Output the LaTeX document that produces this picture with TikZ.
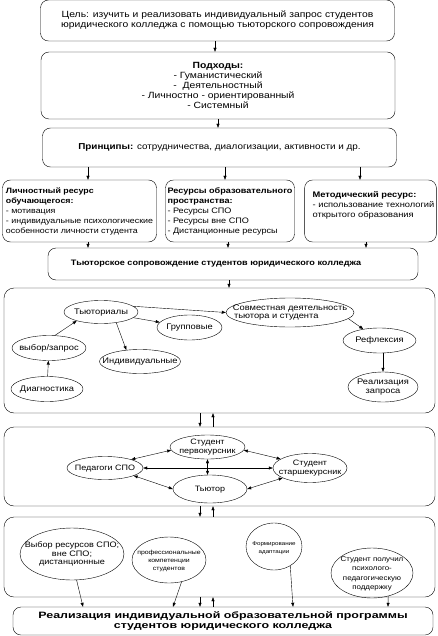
\documentclass[tikz,border=0pt]{standalone}
\usepackage{fontspec}
\setmainfont{Liberation Sans}
\newfontfamily\mainface{Liberation Sans}[FakeStretch=1.15]
\newfontfamily\progfont{Liberation Sans}[FakeStretch=1.35]
\usetikzlibrary{shapes.geometric, arrows.meta, positioning}

% text of an oval takes no room, so the oval keeps its given size
\newcommand{\ovaltxt}[1]{\raisebox{-2.4pt}[0pt][0pt]{\makebox[0pt]{\begin{tabular}{@{}c@{}}#1\end{tabular}}}}
\newcommand{\fs}[2]{\mainface\fontsize{#1}{#2}\selectfont}

\begin{document}
\begin{tikzpicture}[
    x=1pt, y=-1pt,
    topbox/.style={draw, rounded corners=8pt, align=center, minimum width=354pt,
        font=\fs{9}{10}, inner sep=2pt},
    resbox/.style={draw, rounded corners=8pt, align=left, minimum height=62pt, inner xsep=2pt},
    stagebox/.style={draw, rounded corners=10pt, minimum width=431pt},
    oval/.style={draw, ellipse, inner sep=0pt, font=\fs{8.1}{8.7}},
    arr/.style={-{Triangle[length=4pt, width=3pt]}},
    dblarr/.style={{Triangle[length=4pt, width=3pt]}-{Triangle[length=4pt, width=3pt]}}
]
\useasboundingbox (0,0) rectangle (437,636);

% --- Goal, approaches, principles ---
\node[topbox, minimum height=41pt] (goal) at (217.5,20.5) {Цель: изучить и реализовать индивидуальный запрос студентов\\юридического колледжа с помощью тьюторского сопровождения};
\node[topbox, minimum height=67pt] (appr) at (218,85.5) {\textbf{Подходы:}\\- Гуманистический\\-\ \ Деятельностный\\- Личностно - ориентированный\\- Системный};
\node[topbox, minimum height=39pt, font=\fs{8.6}{10}] (princ) at (219.5,147.5) {\textbf{Принципы:} сотрудничества, диалогизации, активности и др.};

\draw[arr] ([xshift=-2.5pt]goal.south) -- ([xshift=-2.5pt]goal.south |- appr.north);
\draw[arr] (appr.south) -- (appr.south |- princ.north);

% --- Resources ---
\node[resbox, minimum width=154pt, font=\fs{7.7}{10}] (res1) at (79.5,211) {\textbf{Личностный ресурс}\\\textbf{обучающегося:}\\- мотивация\\- индивидуальные психологические\\особенности личности студента};
\node[resbox, minimum width=128pt, font=\fs{7.9}{10}] (res2) at (230,211) {\textbf{Ресурсы образовательного}\\\textbf{пространства:}\\- Ресурсы СПО\\- Ресурсы вне СПО\\- Дистанционные ресурсы};
\node[resbox, minimum width=129pt, font=\fs{8.1}{10}] (res3) at (370.5,211) {\hspace*{6pt}\textbf{Методический ресурс:}\\\hspace*{6pt}- использование технологий\\\hspace*{6pt}открытого образования\\[3pt]};

\draw[arr] ([xshift=8.5pt]res1.north |- princ.south) -- ([xshift=8.5pt]res1.north);
\draw[arr] ([xshift=-5pt]res2.north |- princ.south) -- ([xshift=-5pt]res2.north);
\draw[arr] ([xshift=-10.5pt]res3.north |- princ.south) -- ([xshift=-10.5pt]res3.north);

% --- Tutor support ---
\node[topbox, minimum width=370pt, minimum height=32pt, font=\fs{7.9}{10}\bfseries] (support) at (233,264) {Тьюторское сопровождение студентов юридического колледжа\hspace*{34pt}};

\draw[arr] ([xshift=8.5pt]res1.south) -- ([xshift=8.5pt]res1.south |- support.north);
\draw[arr] ([xshift=-2pt]res2.south) -- ([xshift=-2pt]res2.south |- support.north);
\draw[arr] ([xshift=-4.5pt]res3.south) -- ([xshift=-4.5pt]res3.south |- support.north);

% --- Stage frames ---
\node[stagebox, minimum height=125pt] (stage1) at (219.5,350.5) {};
\node[stagebox, minimum height=79pt] (stage2) at (219.5,466.5) {};
\node[stagebox, minimum height=80pt] (stage3) at (219.5,557) {};

\draw[arr] ([xshift=-4pt]support.south) -- ([xshift=-4pt]support.south |- stage1.north);

% --- Stage 1: tutorials ---
\node[oval, minimum width=74pt, minimum height=23pt] (tutorial) at (101,312) {\ovaltxt{Тьюториалы}};
\node[oval, minimum width=128pt, minimum height=29pt] (joint) at (290,312.5) {\ovaltxt{Совместная деятельность\\\makebox[112pt][l]{тьютора и студента}}};
\node[oval, minimum width=65pt, minimum height=25pt] (group) at (189.5,327.5) {\ovaltxt{Групповые}};
\node[oval, minimum width=74pt, minimum height=25pt] (choice) at (49,348) {\ovaltxt{выбор/запрос}};
\node[oval, minimum width=81pt, minimum height=24pt] (indiv) at (140,361.5) {\ovaltxt{Индивидуальные}};
\node[oval, minimum width=73pt, minimum height=25pt] (refl) at (379.5,340.5) {\ovaltxt{Рефлексия}};
\node[oval, minimum width=72pt, minimum height=25pt] (diag) at (47,389) {\ovaltxt{Диагностика}};
\node[oval, minimum width=70pt, minimum height=30pt] (real) at (383,387) {\ovaltxt{Реализация\\запроса}};

\draw[arr] (diag) -- (choice);
\draw[arr] (choice.65) -- (tutorial.200);
\draw[arr] (tutorial.-10) -- (group.170);
\draw[arr] (tutorial.-35) -- (indiv.140);
\draw[arr] (tutorial.10) -- (joint.west);
\draw[arr] (joint.-6) -- (refl.145);
\draw[arr] (real.north |- refl.south) -- (real.north);

% --- Stage 2: participants ---
\node[oval, minimum width=75pt, minimum height=24pt, font=\fs{7.8}{8.7}] (first) at (207.5,447) {\ovaltxt{Студент\\первокурсник}};
\node[oval, minimum width=76pt, minimum height=23pt, font=\fs{7.8}{8.7}] (teach) at (105,468) {\ovaltxt{Педагоги СПО}};
\node[oval, minimum width=74pt, minimum height=29pt, font=\fs{7.8}{8.7}] (senior) at (310,468) {\ovaltxt{Студент\\старшекурсник}};
\node[oval, minimum width=74pt, minimum height=28pt, font=\fs{7.8}{8.7}] (tutor) at (210,489) {\ovaltxt{Тьютор}};

\draw[dblarr] (teach.18) -- (first.185);
\draw[dblarr] (first.-5) -- (senior.163);
\draw[dblarr] (teach.east) -- (senior.west);
\draw[dblarr] (teach.-15) -- (tutor.west);
\draw[dblarr] (tutor.east) -- (senior.200);
\draw[dblarr] (first.south) -- (first.south |- tutor.north);

% --- Stage 3: results ---
\node[oval, minimum width=104pt, minimum height=52pt, font=\fs{7.9}{8.5}] (select) at (72,554) {\ovaltxt{Выбор ресурсов СПО;\\вне СПО;\\дистанционные}};
\node[oval, minimum width=74pt, minimum height=46pt, font=\fs{6}{8.3}] (compet) at (169,560) {\ovaltxt{профессиональные\\компетенции\\студентов}};
\node[oval, minimum width=56pt, minimum height=47pt, font=\fs{5.4}{8}] (adapt) at (274,546.5) {\ovaltxt{Формирование\\адаптации}};
\node[oval, minimum width=82pt, minimum height=50pt, font=\fs{6.9}{9.2}] (help) at (372,573) {\ovaltxt{Студент получил\\психолого-\\педагогическую\\поддержку}};

% --- Individual program ---
\node[draw, rounded corners=8pt, align=center, minimum width=420pt, minimum height=28pt,
    font=\progfont\fontsize{9.2}{10}\selectfont\bfseries] (prog) at (223,621) {Реализация индивидуальной образовательной программы\\студентов юридического колледжа};

\draw[arr] (select.-80) -- ([xshift=-140pt]prog.north);
\draw[arr] (compet.-60) -- ([xshift=-50pt]prog.north);
\draw[arr] (adapt.-50) -- ([xshift=70pt]prog.north);
\draw[arr] (help.-55) -- ([xshift=165pt]prog.north);

% --- Links between frames ---
\foreach \up/\down in {stage1/stage2, stage2/stage3, stage3/prog} {
    \draw[arr] ([xshift=-19.5pt]\up.south) -- ([xshift=-19.5pt]\up.south |- \down.north);
    \draw[arr] ([xshift=-6.5pt]\up.south |- \down.north) -- ([xshift=-6.5pt]\up.south);
}

\end{tikzpicture}
\end{document}
